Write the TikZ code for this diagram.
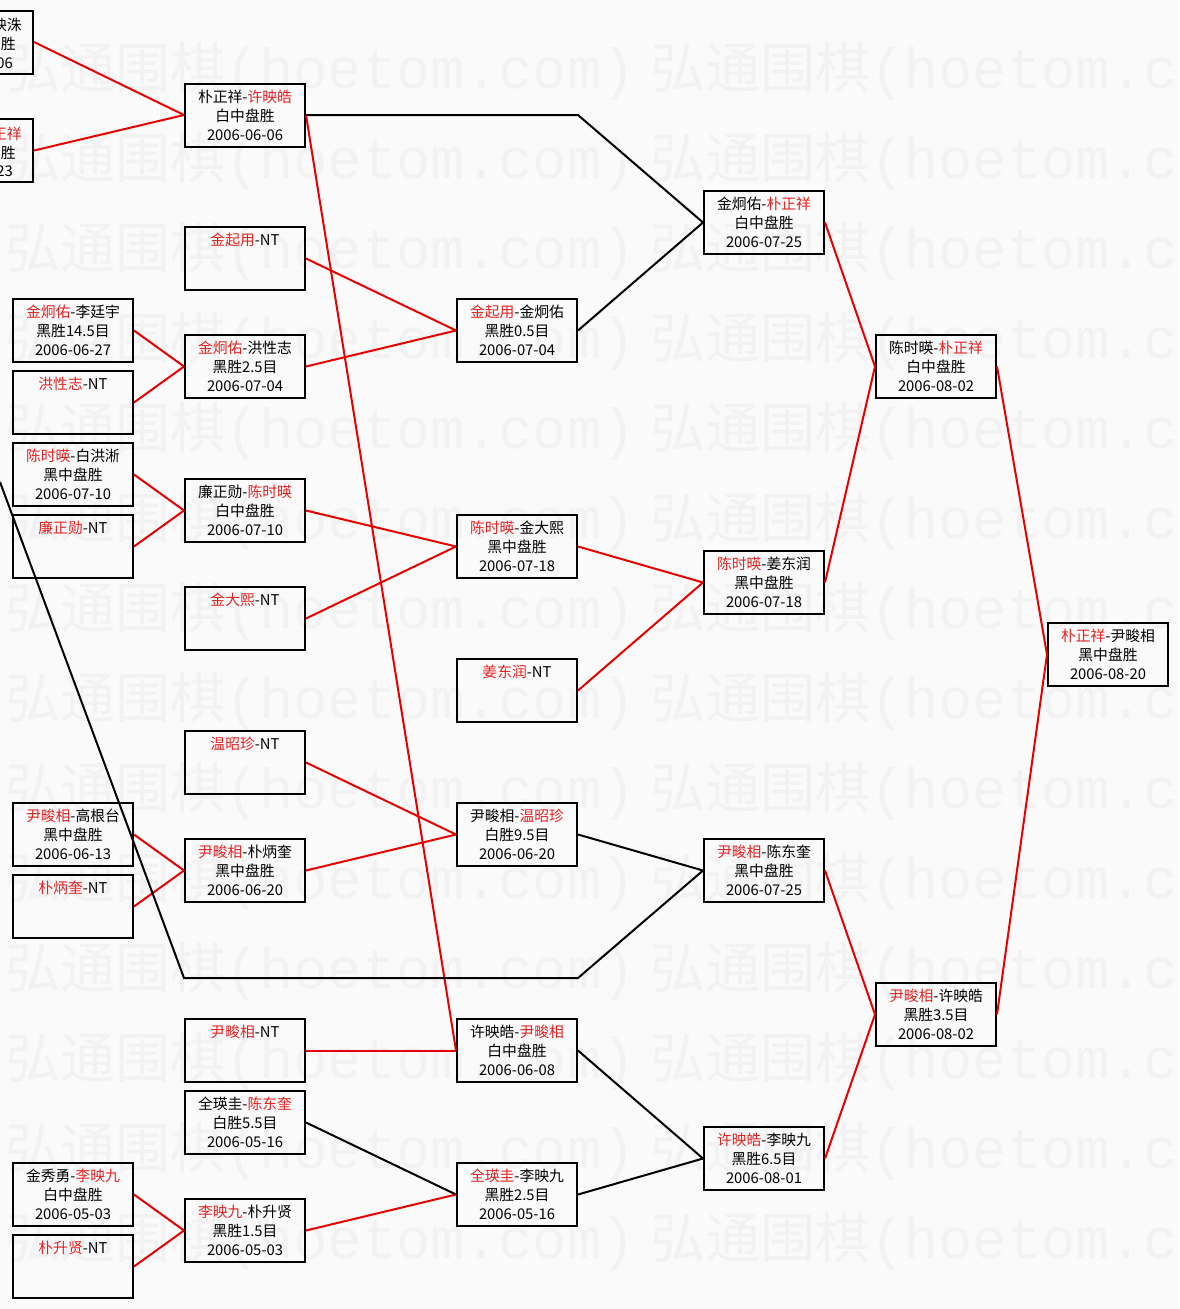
\documentclass[tikz,border=0pt]{standalone}
\usepackage{fontspec}
\setmainfont{Noto Sans CJK SC}
\newfontfamily\wmmono{Liberation Mono}
\definecolor{rd}{RGB}{232,0,0}
\definecolor{rtext}{RGB}{226,34,34}
\definecolor{bgc}{RGB}{250,250,250}
\definecolor{wmc}{RGB}{242,242,242}
\newcommand{\rn}[1]{\textcolor{rtext}{#1}}
\newcommand{\bx}[3]{\rule{0pt}{18.5pt}#1\\\strut #2\\\strut #3}
\tikzset{
  mbox/.style={draw=black, line width=2pt, minimum width=120pt, minimum height=63pt,
    inner sep=0pt, align=center, font=\fontsize{14.8}{19}\selectfont},
  win/.style={draw=rd, line width=2pt},
  lose/.style={draw=black, line width=2pt},
  ptext/.style={anchor=east, inner sep=0pt, font=\fontsize{14.8}{19}\selectfont},
  wmark/.style={anchor=base west, inner sep=0pt, text=wmc, font=\fontsize{55}{55}\selectfont}
}
\begin{document}
\begin{tikzpicture}[x=1pt,y=-1pt]
\useasboundingbox (0,0) rectangle (1179,1309);
\fill[bgc] (0,0) rectangle (1179,1309);
\clip (0,0) rectangle (1179,1309);
% watermark
\foreach \k in {0,...,13}{
  \node[wmark] (wma\k) at (5,{88+90*\k}) {弘通围棋{\wmmono\fontsize{57}{57}\selectfont (hoetom.com)}};
  \node[wmark] (wmb\k) at (650,{88+90*\k}) {弘通围棋{\wmmono\fontsize{57}{57}\selectfont (hoetom.c}};
}
% partial boxes at left edge
\node[mbox] (a) at (-27,42) {};
\node[ptext] (a1) at (22,25) {映洙};
\node[ptext] (a2) at (16,44) {胜};
\node[ptext] (a3) at (13,63) {06};
\node[mbox] (b) at (-27,150.5) {};
\node[ptext] (b1) at (22,133.5) {\rn{正祥}};
\node[ptext] (b2) at (16,152.5) {胜};
\node[ptext] (b3) at (13,171.5) {23};
% column 0
\node[mbox] (n01) at (73,330.5) {\bx{\rn{金炯佑}-李廷宇}{黑胜14.5目}{2006-06-27}};
\node[mbox] (n02) at (73,402.5) {\bx{\rn{洪性志}-NT}{}{}};
\node[mbox] (n03) at (73,474.5) {\bx{\rn{陈时暎}-白洪淅}{黑中盘胜}{2006-07-10}};
\node[mbox] (n04) at (73,546.5) {\bx{\rn{廉正勋}-NT}{}{}};
\node[mbox] (n05) at (73,834.5) {\bx{\rn{尹畯相}-高根台}{黑中盘胜}{2006-06-13}};
\node[mbox] (n06) at (73,906.5) {\bx{\rn{朴炳奎}-NT}{}{}};
\node[mbox] (n07) at (73,1194.5) {\bx{金秀勇-\rn{李映九}}{白中盘胜}{2006-05-03}};
\node[mbox] (n08) at (73,1266.5) {\bx{\rn{朴升贤}-NT}{}{}};
% column 1
\node[mbox] (m01) at (245,115) {\bx{朴正祥-\rn{许映皓}}{白中盘胜}{2006-06-06}};
\node[mbox] (m02) at (245,258.5) {\bx{\rn{金起用}-NT}{}{}};
\node[mbox] (m03) at (245,366.5) {\bx{\rn{金炯佑}-洪性志}{黑胜2.5目}{2006-07-04}};
\node[mbox] (m04) at (245,510.5) {\bx{廉正勋-\rn{陈时暎}}{白中盘胜}{2006-07-10}};
\node[mbox] (m05) at (245,618.5) {\bx{\rn{金大熙}-NT}{}{}};
\node[mbox] (m06) at (245,762.5) {\bx{\rn{温昭珍}-NT}{}{}};
\node[mbox] (m07) at (245,870.5) {\bx{\rn{尹畯相}-朴炳奎}{黑中盘胜}{2006-06-20}};
\node[mbox] (m08) at (245,1050.5) {\bx{\rn{尹畯相}-NT}{}{}};
\node[mbox] (m09) at (245,1122.5) {\bx{全瑛圭-\rn{陈东奎}}{白胜5.5目}{2006-05-16}};
\node[mbox] (m10) at (245,1230.5) {\bx{\rn{李映九}-朴升贤}{黑胜1.5目}{2006-05-03}};
% column 2
\node[mbox] (q01) at (517,330.5) {\bx{\rn{金起用}-金炯佑}{黑胜0.5目}{2006-07-04}};
\node[mbox] (q02) at (517,546.5) {\bx{\rn{陈时暎}-金大熙}{黑中盘胜}{2006-07-18}};
\node[mbox] (q03) at (517,690.5) {\bx{\rn{姜东润}-NT}{}{}};
\node[mbox] (q04) at (517,834.5) {\bx{尹畯相-\rn{温昭珍}}{白胜9.5目}{2006-06-20}};
\node[mbox] (q05) at (517,1050.5) {\bx{许映皓-\rn{尹畯相}}{白中盘胜}{2006-06-08}};
\node[mbox] (q06) at (517,1194.5) {\bx{\rn{全瑛圭}-李映九}{黑胜2.5目}{2006-05-16}};
% column 3
\node[mbox] (r01) at (764,222.5) {\bx{金炯佑-\rn{朴正祥}}{白中盘胜}{2006-07-25}};
\node[mbox] (r02) at (764,582.5) {\bx{\rn{陈时暎}-姜东润}{黑中盘胜}{2006-07-18}};
\node[mbox] (r03) at (764,870.5) {\bx{\rn{尹畯相}-陈东奎}{黑中盘胜}{2006-07-25}};
\node[mbox] (r04) at (764,1158.5) {\bx{\rn{许映皓}-李映九}{黑胜6.5目}{2006-08-01}};
% column 4
\node[mbox] (s01) at (936,366.5) {\bx{陈时暎-\rn{朴正祥}}{白中盘胜}{2006-08-02}};
\node[mbox] (s02) at (936,1014.5) {\bx{\rn{尹畯相}-许映皓}{黑胜3.5目}{2006-08-02}};
% column 5
\node[mbox] (t01) at (1108,654.5) {\bx{\rn{朴正祥}-尹畯相}{黑中盘胜}{2006-08-20}};
% helper coordinates
\coordinate (j1) at (578,115);
\coordinate (j0) at (0,482);
\coordinate (j2) at (184,978);
\coordinate (j3) at (578,978);
% connectors
\draw[win] (a.east) -- (m01.west);
\draw[win] (b.east) -- (m01.west);
\draw[lose] (m01.east) -- (j1) -- (r01.west);
\draw[win] (m01.east) -- (q05.west);
\draw[win] (m02.east) -- (q01.west);
\draw[win] (m03.east) -- (q01.west);
\draw[win] (n01.east) -- (m03.west);
\draw[win] (n02.east) -- (m03.west);
\draw[lose] (q01.east) -- (r01.west);
\draw[win] (r01.east) -- (s01.west);
\draw[win] (n03.east) -- (m04.west);
\draw[win] (n04.east) -- (m04.west);
\draw[win] (m04.east) -- (q02.west);
\draw[win] (m05.east) -- (q02.west);
\draw[win] (q02.east) -- (r02.west);
\draw[win] (q03.east) -- (r02.west);
\draw[win] (r02.east) -- (s01.west);
\draw[win] (s01.east) -- (t01.west);
\draw[win] (m06.east) -- (q04.west);
\draw[win] (m07.east) -- (q04.west);
\draw[win] (n05.east) -- (m07.west);
\draw[win] (n06.east) -- (m07.west);
\draw[lose] (q04.east) -- (r03.west);
\draw[lose] (j0) -- (j2) -- (j3) -- (r03.west);
\draw[win] (r03.east) -- (s02.west);
\draw[win] (m08.east) -- (q05.west);
\draw[lose] (q05.east) -- (r04.west);
\draw[lose] (m09.east) -- (q06.west);
\draw[win] (m10.east) -- (q06.west);
\draw[win] (n07.east) -- (m10.west);
\draw[win] (n08.east) -- (m10.west);
\draw[lose] (q06.east) -- (r04.west);
\draw[win] (r04.east) -- (s02.west);
\draw[win] (s02.east) -- (t01.west);
\end{tikzpicture}
\end{document}
